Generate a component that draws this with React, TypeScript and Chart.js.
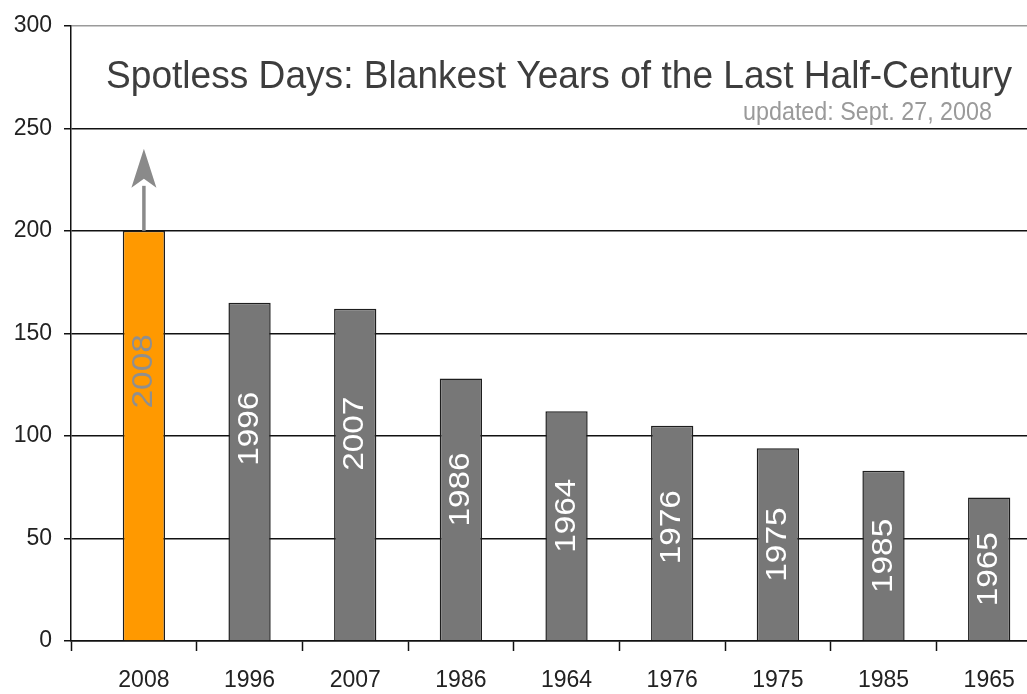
import React, { useEffect, useRef } from "react";
import { Chart, registerables } from "chart.js";

Chart.register(...registerables);

// Years with the most spotless days, ranked
const years = ["2008", "1996", "2007", "1986", "1964", "1976", "1975", "1985", "1965"];
const spotlessDays = [200, 165, 162, 128, 112, 105, 94, 83, 70];
const yTickValues = [0, 50, 100, 150, 200, 250, 300];
const currentYear = "2008";

const titleText = "Spotless Days: Blankest Years of the Last Half-Century";
const subtitleText = "updated: Sept. 27, 2008";

const FONT = '"Liberation Sans", Arial, Helvetica, sans-serif';

// Draws text squeezed horizontally to a given width
function fitText(ctx: CanvasRenderingContext2D, text: string, x: number, y: number, width: number, align: "left" | "right") {
  const w = ctx.measureText(text).width;
  const sx = width / w;
  ctx.save();
  ctx.translate(x, y);
  ctx.scale(sx, 1);
  ctx.textAlign = align;
  ctx.fillText(text, 0, 0);
  ctx.restore();
}

const decorations = {
  id: "decorations",
  afterDatasetsDraw(chart: any) {
    const { ctx, chartArea, scales } = chart;
    const yScale = scales.y;
    const meta = chart.getDatasetMeta(0);

    // year labels written up the bars
    meta.data.forEach((bar: any, i: number) => {
      const v = spotlessDays[i];
      const mid = v / 2 + Math.max(0, (v - 95) * 0.3);
      const py = yScale.getPixelForValue(mid);
      ctx.save();
      ctx.translate(bar.x, py);
      ctx.rotate(-Math.PI / 2);
      ctx.scale(1.15, 1);
      ctx.font = `29px ${FONT}`;
      ctx.textAlign = "center";
      ctx.textBaseline = "middle";
      ctx.fillStyle = years[i] === currentYear ? "#8f8f8f" : "#ffffff";
      ctx.fillText(years[i], 0, 0);
      ctx.restore();
    });

    // upward arrow above the current year's bar
    const first = meta.data[0];
    const topY = first.y;
    const tipY = yScale.getPixelForValue(spotlessDays[0] + 40);
    const headLen = 39;
    const headHalf = 12.5;
    ctx.save();
    ctx.strokeStyle = "#8a8a8a";
    ctx.fillStyle = "#8a8a8a";
    ctx.lineWidth = 3.5;
    ctx.beginPath();
    ctx.moveTo(first.x, topY);
    ctx.lineTo(first.x, tipY + headLen - 2);
    ctx.stroke();
    ctx.beginPath();
    ctx.moveTo(first.x, tipY);
    ctx.lineTo(first.x + headHalf, tipY + headLen);
    ctx.lineTo(first.x, tipY + headLen - 9);
    ctx.lineTo(first.x - headHalf, tipY + headLen);
    ctx.closePath();
    ctx.fill();
    ctx.restore();

    // title and update note inside the plot
    ctx.save();
    ctx.textBaseline = "alphabetic";
    ctx.font = `39px ${FONT}`;
    ctx.fillStyle = "#3d3d3d";
    fitText(ctx, titleText, chartArea.left + 35, chartArea.top + 62, 906, "left");
    ctx.font = `25px ${FONT}`;
    ctx.fillStyle = "#9a9a9a";
    fitText(ctx, subtitleText, chartArea.left + 921, chartArea.top + 94, 249, "right");
    ctx.restore();
  },
};

export default function App() {
  const canvasRef = useRef<HTMLCanvasElement | null>(null);

  useEffect(() => {
    if (!canvasRef.current) return;
    const chart = new Chart(canvasRef.current, {
      type: "bar",
      data: {
        datasets: [
          {
            data: spotlessDays.map((v, i) => ({ x: i, y: v })),
            backgroundColor: years.map((y) => (y === currentYear ? "#ff9900" : "#777777")),
            borderColor: "#1e1e1e",
            borderWidth: 1.5,
            // tick spacing is half a category, so 0.8 of it is 40% of a category
            barPercentage: 0.8,
            categoryPercentage: 1,
          },
        ],
      },
      options: {
        animation: false,
        responsive: true,
        maintainAspectRatio: false,
        devicePixelRatio: 1,
        layout: { padding: { left: 0, top: 24, right: 18, bottom: 0 } },
        plugins: {
          legend: { display: false },
          tooltip: { enabled: false },
          title: { display: false },
        },
        scales: {
          x: {
            type: "linear",
            min: -0.69,
            max: 8.5,
            offset: false,
            afterBuildTicks: (scale: any) => {
              const t: { value: number }[] = [{ value: scale.min }];
              years.forEach((_, i) => {
                t.push({ value: i });
                if (i < years.length - 1) t.push({ value: i + 0.5 });
              });
              scale.ticks = t;
            },
            afterFit: (scale: any) => {
              scale.height = 53;
            },
            ticks: {
              autoSkip: false,
              maxRotation: 0,
              minRotation: 0,
              padding: 16,
              color: "#222222",
              font: { family: FONT, size: 23 },
              callback: (value: any) => (Number.isInteger(value) && value >= 0 ? years[value] : ""),
            },
            grid: {
              offset: false,
              drawOnChartArea: false,
              drawTicks: true,
              tickLength: 10,
              tickWidth: 1.5,
              tickColor: (ctx: any) =>
                ctx.tick && Number.isInteger(ctx.tick.value) ? "rgba(0,0,0,0)" : "#111111",
            },
            border: { display: true, color: "#111111", width: 1.5 },
          },
          y: {
            min: 0,
            max: 300,
            afterBuildTicks: (scale: any) => {
              scale.ticks = yTickValues.map((v) => ({ value: v }));
            },
            afterFit: (scale: any) => {
              scale.width = 71;
            },
            ticks: {
              padding: 12,
              color: "#222222",
              font: { family: FONT, size: 23 },
            },
            grid: {
              color: (ctx: any) => (ctx.tick && ctx.tick.value === 300 ? "#9a9a9a" : "#111111"),
              lineWidth: 1.5,
              drawTicks: true,
              tickLength: 7,
              tickColor: "#111111",
            },
            border: { display: true, color: "#111111", width: 1.5 },
          },
        },
      },
      plugins: [decorations],
    });
    return () => chart.destroy();
  }, []);

  return (
    <div style={{ position: "fixed", left: 0, top: 0, width: "100vw", height: "100vh", overflow: "hidden", background: "#ffffff" }}>
      <div style={{ position: "absolute", left: 0, top: 0, width: 1060, height: 694 }}>
        <canvas ref={canvasRef} />
      </div>
    </div>
  );
}
